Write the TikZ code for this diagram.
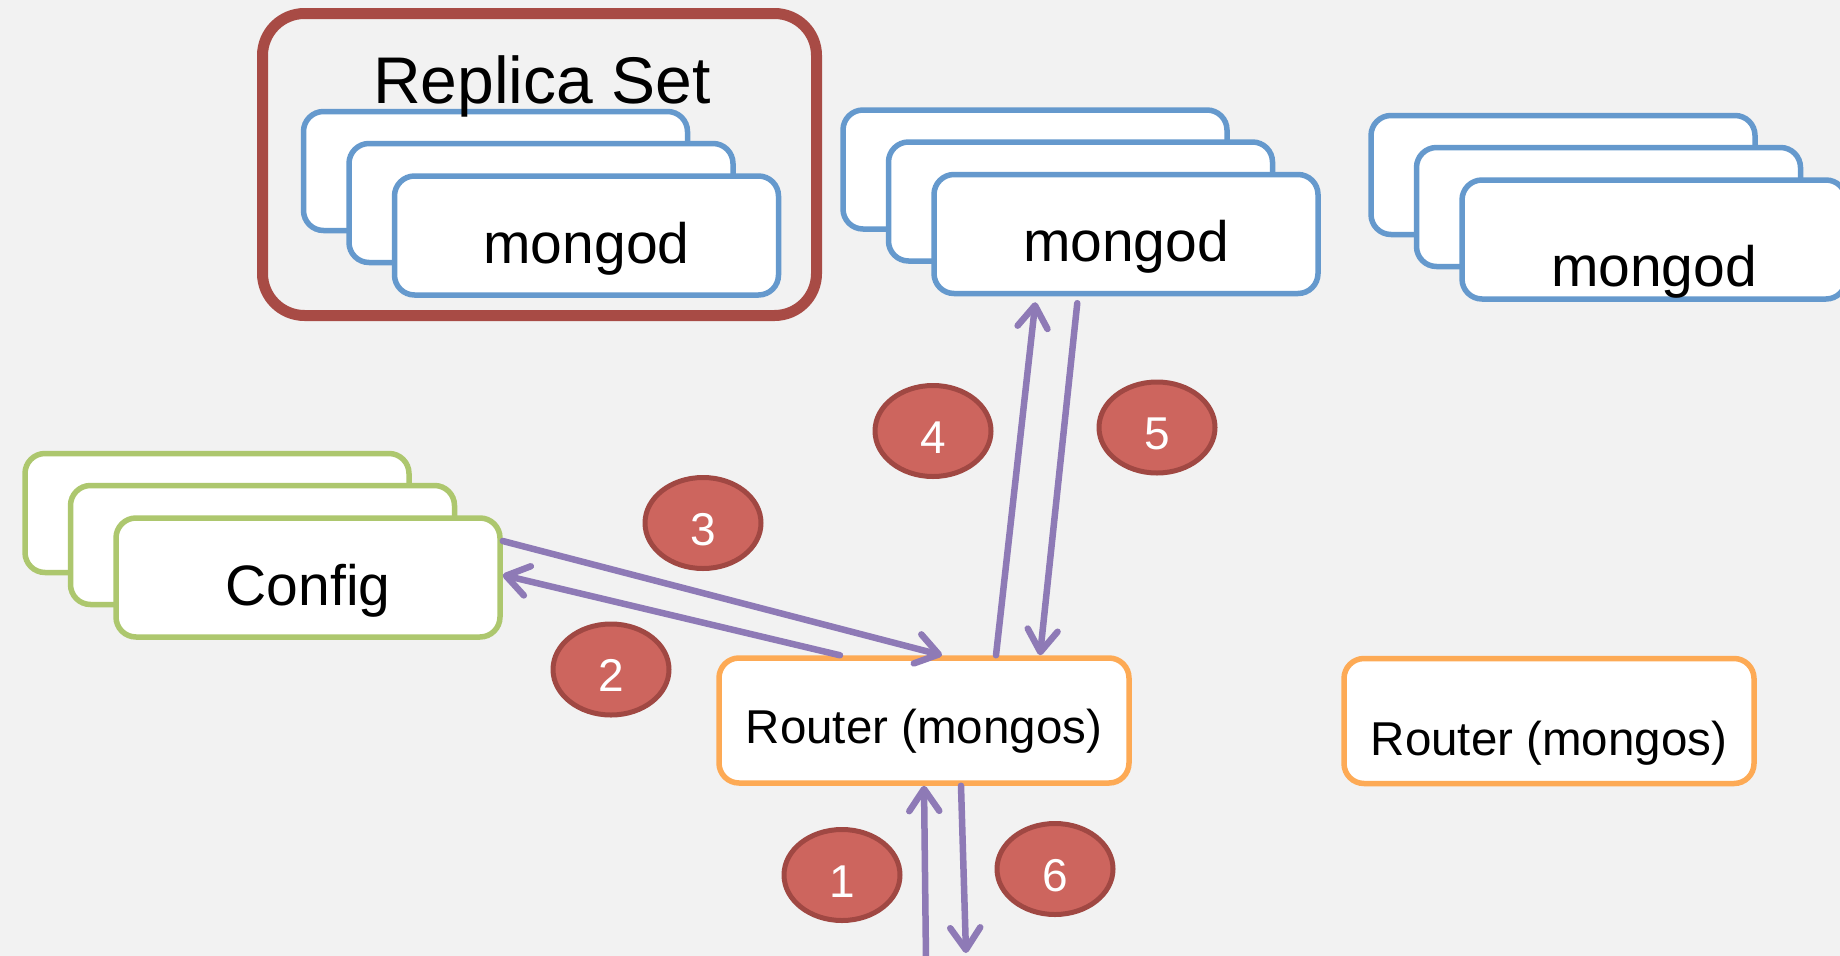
\documentclass[tikz,border=0pt]{standalone}
\usepackage{fontspec}
\setmainfont{Liberation Sans}
\usetikzlibrary{shapes.geometric,arrows.meta}

\definecolor{bgcol}{RGB}{242,242,242}
\definecolor{rsred}{RGB}{168,75,69}
\definecolor{mblue}{RGB}{101,153,205}
\definecolor{cgreen}{RGB}{173,199,110}
\definecolor{rorange}{RGB}{253,170,85}
\definecolor{apurple}{RGB}{142,122,182}
\definecolor{bred}{RGB}{205,101,94}
\definecolor{bdark}{RGB}{160,72,67}

\tikzset{
  mbox/.style={draw=mblue,line width=5.5pt,fill=white,rounded corners=20pt,
    minimum width=384pt,minimum height=119pt,font=\fontsize{57}{60}\selectfont},
  cbox/.style={mbox,draw=cgreen},
  rbox/.style={mbox,draw=rorange,minimum width=410pt,minimum height=125pt,
    font=\fontsize{47.5}{50}\selectfont},
  badge/.style={ellipse,draw=bdark,fill=bred,line width=5pt,
    minimum width=116pt,minimum height=91pt,text=white,
    font=\fontsize{46}{48}\selectfont,text height=44pt,text depth=0pt},
  flow/.style={draw=apurple,line width=6.5pt,line cap=round,
    -{Straight Barb[round,length=22pt,width=30pt]}},
}

\begin{document}
\begin{tikzpicture}[x=1pt,y=-1pt]
      % Background
      \useasboundingbox (0,0) rectangle (1840,956);
      \fill[bgcol] (0,0) rectangle (1840,956);
      \clip (0,0) rectangle (1840,956);
      % Replica set frame
      \node[draw=rsred,line width=11pt,rounded corners=42pt,
        minimum width=554pt,minimum height=302pt] (rset) at (539.5,164.5) {};
      % Stacks (two boxes behind each front box)
      \foreach \cx/\cy/\nm/\sty in {586.5/235.5/mA/mbox, 1126/234/mB/mbox,
          1654/239.5/mC/mbox, 308/577.5/cfg/cbox} {
        \node[\sty] (\nm-back) at (\cx-91,\cy-64.5) {};
        \node[\sty] (\nm-mid) at (\cx-45.5,\cy-32.5) {};
      }
      % -- front boxes
      \node[mbox,text height=55pt,text depth=0pt] (mA) at (586.5,235.5) {mongod};
      \node[mbox,text height=54pt,text depth=0pt] (mB) at (1126,234) {mongod};
      \node[mbox,text height=93pt,text depth=0pt] (mC) at (1654,239.5) {mongod};
      \node[cbox,text height=55pt,text depth=0pt] (cfg) at (308,577.5) {Config};
      \node[anchor=base,font=\fontsize{66}{70}\selectfont] (rstitle)
        at (542,103) {Replica Set};
      % Routers
      \node[rbox,text height=45pt,text depth=0pt] (rt1) at (924,720.5) {Router (mongos)};
      \node[rbox,text height=68pt,text depth=0pt] (rt2) at (1549,721) {Router (mongos)};
      % Flows
      \coordinate (in1) at (926,960);
      \coordinate (out6) at (966,953);
      \draw[flow] (in1) -- (rt1.south);
      \draw[flow] ([xshift=-84pt]rt1.north) -- ([yshift=2.5pt]cfg.east);
      \draw[flow] ([yshift=36.5pt]cfg.east) -- ([xshift=18pt]rt1.north);
      \draw[flow,shorten >=6pt] ([xshift=72pt]rt1.north) -- ([xshift=-90pt]mB.south);
      \draw[flow,shorten <=7pt] ([xshift=-48pt]mB.south) -- ([xshift=116pt]rt1.north);
      \draw[flow] ([xshift=37pt]rt1.south) -- (out6);
      % Step numbers
      \begin{scope}[every node/.style={badge}]
        \node (b1) at (842,875) {1};
        \node (b2) at (611,669.5) {2};
        \node (b3) at (703,523) {3};
        \node (b4) at (933,431) {4};
        \node (b5) at (1157,427.5) {5};
        \node (b6) at (1055,869) {6};
      \end{scope}
    \end{tikzpicture}
\end{document}
